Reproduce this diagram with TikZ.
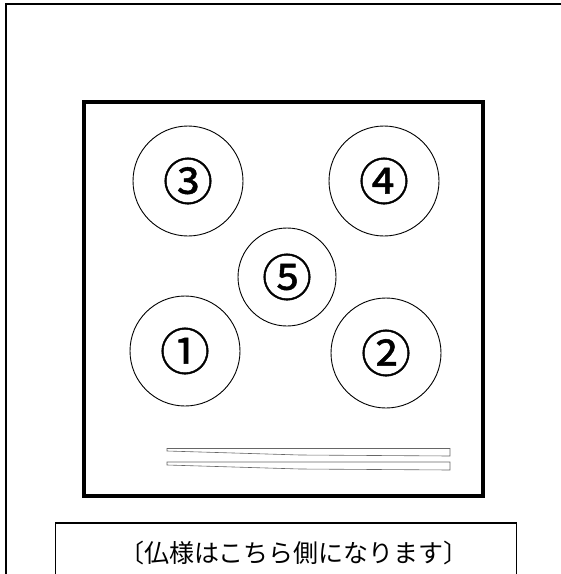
\documentclass[tikz,border=0pt]{standalone}
\usepackage{fontspec}
\newfontfamily\cjk{Noto Sans CJK JP}
\newfontfamily\cjknum[FakeBold=1]{Noto Sans CJK JP}
\begin{document}
\begin{tikzpicture}[x=1pt,y=-1pt,
  burner/.style={circle,draw,line width=0.9pt,minimum size=#1,inner sep=0pt,font=\cjknum\fontsize{50}{50}\selectfont},
  stick/.style={draw=gray!80!black,line width=0.6pt}]
\useasboundingbox (0,0) rectangle (561,574);
\draw[line width=1.8pt] (561,4) -- (6,4) -- (6,574);
\draw[line width=1.2pt] (55.5,574) -- (55.5,523) -- (516.5,523) -- (516.5,574);
\node[draw,line width=4pt,minimum width=399pt,minimum height=394pt,anchor=north west,inner sep=0pt] (box) at (81.5,100) {};
\node[burner=110pt] (b3) at (188,181) {③};
\node[burner=110pt] (b4) at (384,181) {④};
\node[burner=98pt] (b5) at (287,277) {⑤};
\node[burner=110pt] (b1) at (185,351) {①};
\node[burner=110pt] (b2) at (386,353) {②};
\draw[stick] (167,448.5) -- (450,448.5) -- (450,456) -- (300,455) -- (167,451) -- cycle;
\draw[stick] (167,462) -- (450,462) -- (450,470) -- (300,469) -- (167,465) -- cycle;
\node[font=\cjk\fontsize{25}{25}\selectfont] (txt) at (294,553) {〔仏様はこちら側になります〕};
\end{tikzpicture}
\end{document}
